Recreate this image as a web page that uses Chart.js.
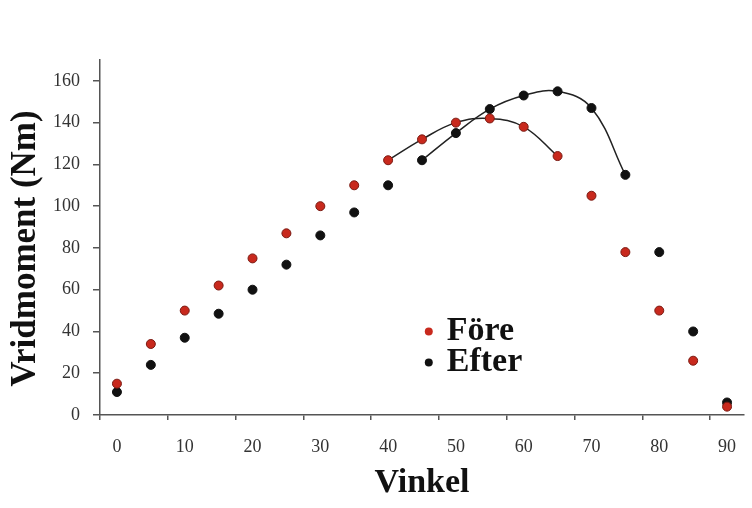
<!DOCTYPE html>
<html>
<head>
<meta charset="utf-8">
<title>Vridmoment</title>
<script src="https://cdn.jsdelivr.net/npm/chart.js@4.4.1/dist/chart.umd.min.js"></script>
<style>
  html, body { margin: 0; padding: 0; background: #fff; }
</style>
</head>
<body>
<canvas id="torqueChart" width="752" height="508"></canvas>
<script>
// angle (degrees) and torque (Nm)
const angles = [0, 5, 10, 15, 20, 25, 30, 35, 40, 45, 50, 55, 60, 65, 70, 75, 80, 85, 90];
const fore   = [15, 34, 50, 62, 75, 87, 100, 110, 122, 132, 140, 142, 138, 124, 105, 78, 50, 26, 4];
const efter  = [11, 24, 37, 48.5, 60, 72, 86, 97, 110, 122, 135, 146.5, 153, 155, 147, 115, 78, 40, 6];

const yTicks = [0, 20, 40, 60, 80, 100, 120, 140, 160];
const xTicks = [-2.5, 7.5, 17.5, 27.5, 37.5, 47.5, 57.5, 67.5, 77.5, 87.5];

// angle ranges covered by the smoothed curves
const foreFit = [40, 65];
const efterFit = [45, 75];

const RED = '#c8291d';
const BLACK = '#111';
const SERIF = "'Liberation Serif', 'Times New Roman', serif";
const Y_TITLE = 'Vridmoment (Nm)';

function points(values) {
    return angles.map((a, i) => ({ x: a, y: values[i] }));
}

function fitPoints(values, range) {
    return points(values).filter(p => p.x >= range[0] && p.x <= range[1]);
}

// legend inside the plot area + the y title (sits a bit below the axis middle)
const extras = {
    id: 'extras',
    afterDraw(chart) {
        const { ctx, scales: { x, y } } = chart;
        ctx.save();

        const left = x.getPixelForValue(46);
        let top = y.getPixelForValue(40);
        ctx.font = "bold 34px " + SERIF;
        ctx.textBaseline = 'middle';
        [0, 1].forEach(i => {
            const ds = chart.data.datasets[i];
            ctx.beginPath();
            ctx.arc(left, top, 4, 0, Math.PI * 2);
            ctx.fillStyle = ds.backgroundColor;
            ctx.fill();
            ctx.fillStyle = '#111';
            ctx.fillText(ds.label, left + 18, top);
            top += 31;
        });

        ctx.translate(y.left + 26, (y.top + y.bottom) / 2 + 11);
        ctx.rotate(-Math.PI / 2);
        ctx.font = "bold 35px " + SERIF;
        ctx.textAlign = 'center';
        ctx.fillText(Y_TITLE, 0, 0);
        ctx.restore();
    }
};

const ctx = document.getElementById('torqueChart').getContext('2d');

new Chart(ctx, {
    type: 'scatter',
    data: {
        datasets: [
            {
                label: 'Före',
                data: points(fore),
                backgroundColor: RED,
                borderColor: '#7a1a12',
                borderWidth: 1,
                pointRadius: 4.5
            },
            {
                label: 'Efter',
                data: points(efter),
                backgroundColor: BLACK,
                borderColor: BLACK,
                borderWidth: 1,
                pointRadius: 4.5
            },
            {
                label: 'Före kurva',
                data: fitPoints(fore, foreFit),
                showLine: true,
                pointRadius: 0,
                borderColor: '#222',
                borderWidth: 1.5,
                tension: 0.4
            },
            {
                label: 'Efter kurva',
                data: fitPoints(efter, efterFit),
                showLine: true,
                pointRadius: 0,
                borderColor: '#222',
                borderWidth: 1.5,
                tension: 0.4
            }
        ]
    },
    options: {
        responsive: false,
        animation: false,
        devicePixelRatio: 1,
        layout: { padding: { top: 60, right: 8, left: 0, bottom: 0 } },
        plugins: {
            legend: { display: false },
            tooltip: { enabled: false }
        },
        scales: {
            x: {
                type: 'linear',
                min: -2.5,
                max: 92.5,
                afterBuildTicks: s => { s.ticks = xTicks.map(v => ({ value: v })); },
                afterFit: s => { s.height = 93; },
                ticks: {
                    autoSkip: false,
                    maxRotation: 0,
                    labelOffset: 17,
                    padding: 16,
                    color: '#333',
                    font: { family: SERIF, size: 18 },
                    callback: v => String(v + 2.5)
                },
                grid: { drawOnChartArea: false, tickLength: 5, color: '#555', lineWidth: 1.5 },
                border: { color: '#555', width: 1.5 },
                title: {
                    display: true,
                    text: 'Vinkel',
                    color: '#111',
                    font: { family: SERIF, size: 34, weight: 'bold', lineHeight: 1.2 },
                    padding: { top: 0, bottom: 4 }
                }
            },
            y: {
                min: 0,
                max: 170,
                afterBuildTicks: s => { s.ticks = yTicks.map(v => ({ value: v })); },
                afterFit: s => { s.width = 100; },
                ticks: {
                    padding: 13,
                    color: '#333',
                    font: { family: SERIF, size: 18 }
                },
                grid: { drawOnChartArea: false, tickLength: 7, color: '#555', lineWidth: 1.5 },
                border: { color: '#555', width: 1.5 },
                title: { display: false }
            }
        }
    },
    plugins: [extras]
});
</script>
</body>
</html>
